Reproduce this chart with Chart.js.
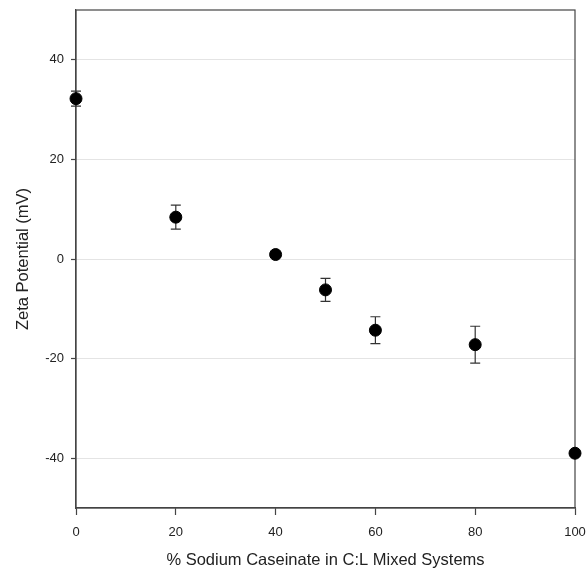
<!DOCTYPE html>
<html>
<head>
<meta charset="utf-8">
<script src="https://cdn.jsdelivr.net/npm/chart.js@4/dist/chart.umd.min.js"></script>
<style>
    html, body { margin: 0; padding: 0; background: #fff; }
    #wrap { width: 586px; height: 570px; }
</style>
</head>
<body>
<div id="wrap"><canvas id="zetaChart"></canvas></div>
<script>
// Данные
const caseinatePct = [0, 20, 40, 50, 60, 80, 100];
const zetaMean = [32.2, 8.4, 0.9, -6.2, -14.3, -17.2, -39.0];
const zetaErr = [1.5, 2.4, 0.3, 2.3, 2.7, 3.7, 0.3];
const yTicks = [-40, -20, 0, 20, 40];
const xTicks = [0, 20, 40, 60, 80, 100];

const AXIS_COLOR = '#444';
const FONT = 'Liberation Sans, Arial, sans-serif';

// Планки погрешностей (под точками)
const errorBars = {
    id: 'errorBars',
    beforeDatasetsDraw(chart) {
        const { ctx, scales: { x, y } } = chart;
        ctx.save();
        ctx.strokeStyle = '#333';
        ctx.lineWidth = 1.2;
        caseinatePct.forEach((v, i) => {
            const px = x.getPixelForValue(v);
            const top = y.getPixelForValue(zetaMean[i] + zetaErr[i]);
            const bot = y.getPixelForValue(zetaMean[i] - zetaErr[i]);
            ctx.beginPath();
            ctx.moveTo(px, top); ctx.lineTo(px, bot);
            ctx.moveTo(px - 5, top); ctx.lineTo(px + 5, top);
            ctx.moveTo(px - 5, bot); ctx.lineTo(px + 5, bot);
            ctx.stroke();
        });
        ctx.restore();
    }
};

// Рамка вокруг области графика
const frame = {
    id: 'frame',
    beforeDatasetsDraw(chart) {
        const { ctx, chartArea: a } = chart;
        ctx.save();
        ctx.strokeStyle = AXIS_COLOR;
        ctx.lineWidth = 1.2;
        ctx.strokeRect(a.left, a.top, a.right - a.left, a.bottom - a.top);
        ctx.restore();
    }
};

new Chart(document.getElementById('zetaChart'), {
    type: 'scatter',
    data: {
        datasets: [{
            data: caseinatePct.map((v, i) => ({ x: v, y: zetaMean[i] })),
            backgroundColor: '#000',
            borderColor: '#000',
            pointRadius: 6,
            clip: false
        }]
    },
    options: {
        responsive: true,
        maintainAspectRatio: false,
        animation: false,
        layout: { padding: { left: 0, right: 11, top: 10, bottom: 0 } },
        plugins: { legend: { display: false }, tooltip: { enabled: false } },
        scales: {
            x: {
                type: 'linear',
                min: 0,
                max: 100,
                afterBuildTicks: (s) => { s.ticks = xTicks.map(v => ({ value: v })); },
                afterFit: (s) => { s.height = 62; s.paddingLeft = 0; s.paddingRight = 0; },
                grid: { drawOnChartArea: false, tickLength: 7, tickColor: AXIS_COLOR, tickWidth: 1.2 },
                border: { color: AXIS_COLOR, width: 1.2 },
                ticks: { color: '#222', font: { family: FONT, size: 13 }, padding: 10, maxRotation: 0 },
                title: {
                    display: true,
                    text: '% Sodium Caseinate in C:L Mixed Systems',
                    color: '#222',
                    font: { family: FONT, size: 16.5 },
                    padding: { top: 0, bottom: 0 }
                }
            },
            y: {
                min: -50,
                max: 50,
                afterBuildTicks: (s) => { s.ticks = yTicks.map(v => ({ value: v })); },
                afterFit: (s) => { s.width = 76; s.paddingTop = 0; s.paddingBottom = 0; },
                grid: { color: '#e4e4e4', lineWidth: 1, tickLength: 5, tickColor: AXIS_COLOR, tickWidth: 1.2 },
                border: { color: AXIS_COLOR, width: 1.2 },
                ticks: { color: '#222', font: { family: FONT, size: 13 }, padding: 7 },
                title: {
                    display: true,
                    text: 'Zeta Potential (mV)',
                    color: '#222',
                    font: { family: FONT, size: 16.5 },
                    padding: { top: 14, bottom: 0 }
                }
            }
        }
    },
    plugins: [frame, errorBars]
});
</script>
</body>
</html>
